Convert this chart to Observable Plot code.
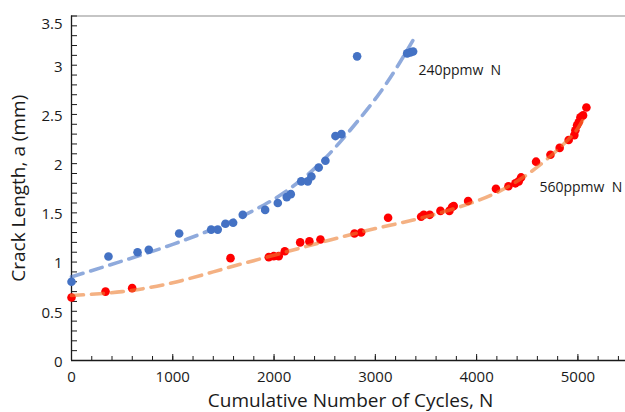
<!DOCTYPE html>
<html>
<head>
<meta charset="utf-8">
<script src="https://cdn.jsdelivr.net/npm/d3@7"></script>
<script src="https://cdn.jsdelivr.net/npm/@observablehq/plot@0.6"></script>
<style>
  html, body { margin: 0; padding: 0; background: #fff; }
  #chart svg { display: block; }
</style>
</head>
<body>
<div id="chart"></div>
<script>
// ---- data ----
const blueCycles = [0, 365, 652, 763, 1063, 1379, 1444, 1520, 1596, 1691, 1912, 2037, 2125, 2165, 2268, 2333, 2369, 2441, 2507, 2606, 2665, 2820, 3314, 3346, 3373];
const blueCrack  = [0.80, 1.057, 1.10, 1.125, 1.29, 1.33, 1.33, 1.39, 1.40, 1.48, 1.53, 1.60, 1.66, 1.69, 1.82, 1.82, 1.87, 1.96, 2.03, 2.28, 2.30, 3.09, 3.12, 3.13, 3.14];

const redCycles = [0, 336, 599, 1570, 1948, 1997, 2046, 2106, 2258, 2349, 2458, 2794, 2860, 3126, 3452, 3478, 3537, 3643, 3731, 3758, 3774, 3916, 4191, 4314, 4383, 4416, 4439, 4587, 4729, 4820, 4909, 4965, 4975, 4992, 5008, 5025, 5051, 5084];
const redCrack  = [0.64, 0.70, 0.735, 1.04, 1.05, 1.06, 1.06, 1.11, 1.20, 1.21, 1.23, 1.29, 1.30, 1.45, 1.46, 1.48, 1.48, 1.52, 1.52, 1.56, 1.57, 1.62, 1.745, 1.77, 1.80, 1.82, 1.86, 2.02, 2.09, 2.16, 2.24, 2.29, 2.34, 2.39, 2.42, 2.47, 2.49, 2.57];

// trend lines
const blueTrendCycles = [0, 500, 1000, 1500, 1900, 2200, 2500, 2800, 3100, 3370];
const blueTrendCrack  = [0.85, 1.01, 1.18, 1.38, 1.58, 1.78, 2.05, 2.40, 2.80, 3.25];
const redTrendCycles = [0, 500, 1000, 1500, 2000, 2500, 3000, 3500, 4000, 4300, 4500, 4700, 4900, 5000, 5080];
const redTrendCrack  = [0.66, 0.70, 0.79, 0.93, 1.07, 1.21, 1.34, 1.46, 1.62, 1.76, 1.89, 2.05, 2.24, 2.36, 2.50];

const seriesNames = ["240ppmw\u00a0 N", "560ppmw\u00a0 N"];
const labelCycles = [3425, 4620];
const labelCrack  = [2.95, 1.76];

const xMajorTicks = [0, 1000, 2000, 3000, 4000, 5000];
const xMinorTicks = d3.range(0, 5401, 200);
const yMajorTicks = [0, 0.5, 1, 1.5, 2, 2.5, 3];
const yTopTick = [3.5];
const yMinorTicks = d3.range(0, 36).map(i => i / 10);

// ---- build tables ----
const blue = blueCycles.map((x, i) => ({x, y: blueCrack[i]}));
const red = redCycles.map((x, i) => ({x, y: redCrack[i]}));
const blueTrend = blueTrendCycles.map((x, i) => ({x, y: blueTrendCrack[i]}));
const redTrend = redTrendCycles.map((x, i) => ({x, y: redTrendCrack[i]}));
const labels = seriesNames.map((t, i) => ({t, x: labelCycles[i], y: labelCrack[i]}));

const W = 625, H = 412;
const mL = 71, mR = 0, mT = 15.5, mB = 52;
const plotH = H - mT - mB, plotW = W - mL - mR;
const font = "'Open Sans', 'Noto Sans', sans-serif";
const ink = "#1a1a1a";

const chart = Plot.plot({
  width: W,
  height: H,
  marginLeft: mL,
  marginRight: mR,
  marginTop: mT,
  marginBottom: mB,
  style: {fontFamily: font, fontSize: "15px", color: ink, background: "#fff", overflow: "visible"},
  x: {domain: [0, 5470]},
  y: {domain: [0, 3.5]},
  marks: [
    // frame lines
    Plot.ruleY([3.5], {stroke: "#8c8c8c", strokeWidth: 1.2}),
    // inward ticks
    Plot.tickX(xMinorTicks, {x: d => d, stroke: ink, insetTop: plotH - 4}),
    Plot.tickX(xMajorTicks, {x: d => d, stroke: ink, insetTop: plotH - 6}),
    Plot.tickY(yMinorTicks, {y: d => d, stroke: ink, insetRight: plotW - 6}),
    Plot.ruleY([0], {stroke: ink, strokeWidth: 1.3}),
    Plot.ruleX([0], {stroke: ink, strokeWidth: 1.3}),
    // axes labels
    Plot.axisX(xMajorTicks, {tickSize: 0, tickPadding: 11, fill: ink, fontSize: 15, label: null, tickFormat: d => String(d)}),
    Plot.axisY(yMajorTicks, {tickSize: 0, tickPadding: 9, fill: ink, fontSize: 15, label: null, dy: 1.5, tickFormat: d => String(d)}),
    Plot.axisY(yTopTick, {tickSize: 0, tickPadding: 9, fill: ink, fontSize: 15, label: null, dy: 8, tickFormat: d => String(d)}),
    // data points
    Plot.dot(blue, {x: "x", y: "y", r: 4.3, fill: "#4472C4", stroke: "none"}),
    Plot.dot(red, {x: "x", y: "y", r: 4.3, fill: "#FF0000", stroke: "none"}),
    // trend lines
    Plot.line(blueTrend, {x: "x", y: "y", curve: "natural", stroke: "#4472C4", strokeOpacity: 0.6, strokeWidth: 3.6, strokeDasharray: "12,8"}),
    Plot.line(redTrend, {x: "x", y: "y", curve: "natural", stroke: "#ED7D31", strokeOpacity: 0.6, strokeWidth: 3.6, strokeDasharray: "12,8"}),
    // series labels
    Plot.text(labels, {x: "x", y: "y", text: "t", textAnchor: "start", lineAnchor: "middle", fontSize: 14, fill: ink}),
    // axis titles
    Plot.text(["Cumulative Number of Cycles, N"], {frameAnchor: "bottom", textAnchor: "middle", dy: 40, dx: 2, lineAnchor: "middle", fontSize: 19, fill: ink}),
    Plot.text(["Crack Length, a (mm)"], {frameAnchor: "left", textAnchor: "middle", dx: -53, rotate: -90, lineAnchor: "middle", fontSize: 19, fill: ink})
  ]
});

document.getElementById("chart").appendChild(chart);
</script>
</body>
</html>
